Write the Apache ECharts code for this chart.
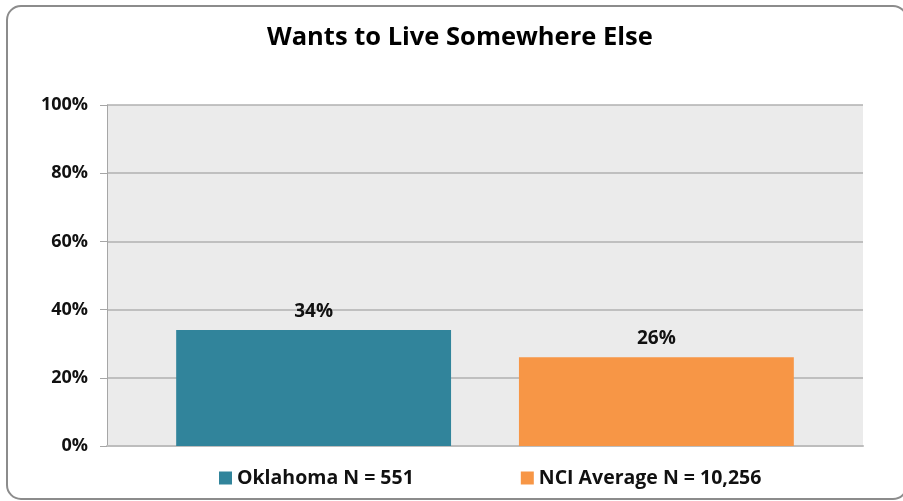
<!DOCTYPE html>
<html>
<head>
<meta charset="utf-8">
<script src="https://cdn.jsdelivr.net/npm/echarts@6/dist/echarts.min.js"></script>
<style>
html,body{margin:0;padding:0;background:#fff;}
#c{width:903px;height:501px;}
</style>
</head>
<body>
<div id="c"></div>
<script>
const titleText = 'Wants to Live Somewhere Else';
const categories = [''];
const seriesNames = ['Oklahoma N = 551', 'NCI Average N = 10,256'];
const oklahomaValues = [34];
const nciValues = [26];
const yTicks = [0, 20, 40, 60, 80, 100];

const chart = echarts.init(document.getElementById('c'), null, {renderer: 'canvas'});
const font = '"Open Sans", "Noto Sans", sans-serif';
chart.setOption({
  animation: false,
  backgroundColor: '#ffffff',
  graphic: [{
    type: 'rect', z: -10, silent: true,
    shape: {x: 7, y: 6, width: 900, height: 493, r: 14},
    style: {fill: '#ffffff', stroke: '#8c8c8c', lineWidth: 2}
  }],
  title: {
    text: titleText, left: 262, top: 20,
    textStyle: {fontFamily: font, fontWeight: 'bold', fontSize: 25.5, color: '#000'}
  },
  legend: {
    bottom: 8, left: 214, itemWidth: 13, itemHeight: 13, itemGap: 107,
    icon: 'rect',
    textStyle: {fontFamily: font, fontWeight: 'bold', fontSize: 19.5, color: '#111'},
    data: seriesNames
  },
  grid: {left: 107, right: 40, top: 105, bottom: 55, show: true, backgroundColor: '#ebebeb', borderWidth: 0},
  xAxis: {
    type: 'category', data: categories,
    axisLine: {lineStyle: {color: '#bdbdbd', width: 2}},
    axisTick: {show: false}, axisLabel: {show: false}
  },
  yAxis: {
    type: 'value', min: yTicks[0], max: yTicks[yTicks.length - 1], interval: 20,
    axisLine: {show: true, lineStyle: {color: '#a6a6a6', width: 1}},
    axisTick: {show: true, length: 7, lineStyle: {color: '#a6a6a6'}},
    splitLine: {lineStyle: {color: '#b0b0b0', width: 1.5}},
    axisLabel: {formatter: '{value}%', fontFamily: font, fontWeight: 'bold', fontSize: 18, color: '#111', margin: 19}
  },
  series: [{
    name: seriesNames[0], type: 'bar', data: oklahomaValues,
    itemStyle: {color: '#31849b'},
    barGap: '24.7%', barCategoryGap: '18.3%',
    label: {show: true, position: 'top', distance: 9, formatter: '{c}%', fontFamily: font, fontWeight: 'bold', fontSize: 19, color: '#111'}
  }, {
    name: seriesNames[1], type: 'bar', data: nciValues,
    itemStyle: {color: '#f79646'},
    barGap: '24.7%', barCategoryGap: '18.3%',
    label: {show: true, position: 'top', distance: 9, formatter: '{c}%', fontFamily: font, fontWeight: 'bold', fontSize: 19, color: '#111'}
  }]
});
</script>
</body>
</html>
